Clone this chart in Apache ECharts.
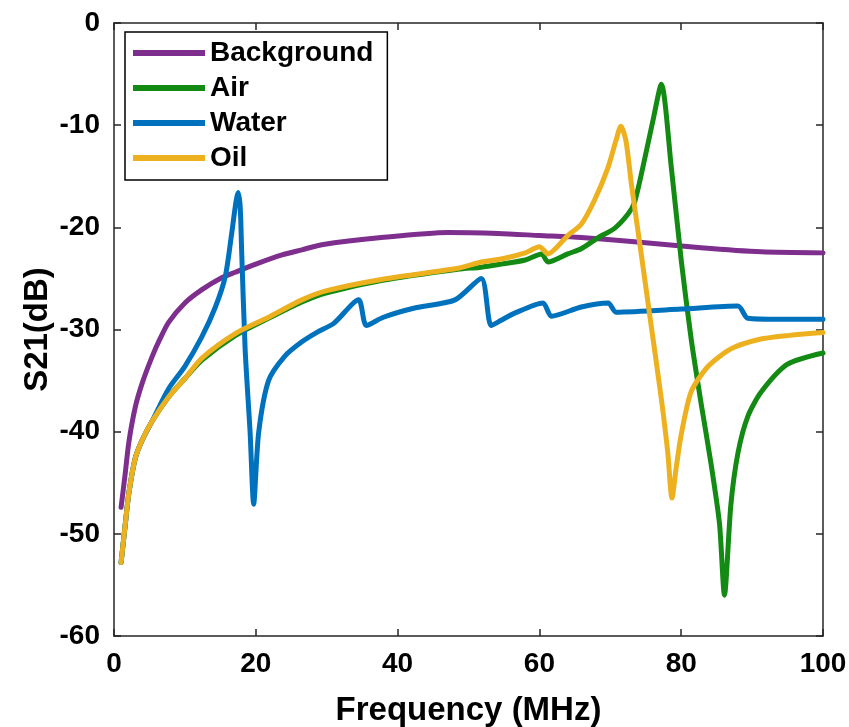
<!DOCTYPE html>
<html>
<head>
<meta charset="utf-8">
<script src="https://cdn.jsdelivr.net/npm/echarts@6/dist/echarts.min.js"></script>
<style>
html,body{margin:0;padding:0;background:#fff;}
#chart{width:849px;height:727px;}
</style>
</head>
<body>
<div id="chart"></div>
<script>
var seriesNames = ['Background', 'Air', 'Water', 'Oil'];
var xTicks = [0, 20, 40, 60, 80, 100];
var yTicks = [-60, -50, -40, -30, -20, -10, 0];

var bgX = [1, 1.6, 2.1, 3, 4, 5.35, 6.5, 7.7, 10, 12.4, 15, 17.1, 20, 23.7, 26.5, 29.3, 37.7, 47.1, 54.2, 60, 65.9, 73.4, 82.8, 91.3, 100];
var bgY = [-47.4, -44, -41, -37.6, -35.2, -32.7, -30.9, -29.3, -27.4, -26.1, -25.0, -24.4, -23.6, -22.7, -22.2, -21.7, -21.0, -20.5, -20.6, -20.8, -21.0, -21.4, -22.0, -22.4, -22.5];

var airX = [1, 1.6, 2.1, 3, 4, 5.35, 7.7, 10, 12.4, 17.1, 21.8, 26.5, 30, 37.7, 48.5, 51.8, 54.6, 58, 60.3, 61.2, 64.0, 65.9, 68.3, 70.6, 72.5, 73.4, 74.6, 76.0, 77.2, 78.6, 80.0, 81.4, 82.8, 84.2, 85.4, 86.1, 87.0, 88.0, 89.4, 91.3, 95, 100];
var airY = [-52.8, -49, -46, -42.6, -40.8, -39.0, -36.6, -34.8, -33.0, -30.6, -28.9, -27.3, -26.4, -25.2, -24.1, -23.9, -23.6, -23.2, -22.6, -23.4, -22.6, -22.1, -21.0, -20.1, -18.7, -17.6, -14.1, -9.6, -6.0, -14.1, -23.2, -30.9, -37.2, -43.1, -49, -56.0, -47.2, -42.1, -38.5, -36.1, -33.4, -32.3];

var waterX = [1, 1.6, 2.1, 3, 4, 5.35, 7.7, 10, 12.4, 14.3, 15.7, 16.6, 17.2, 17.5, 17.8, 18.0, 18.5, 19.2, 19.7, 20.4, 21.8, 24.1, 26.5, 28.8, 31, 34.5, 35.6, 38, 42.4, 48.1, 51.8, 53.2, 54.6, 56.5, 60.5, 61.7, 65.9, 69.7, 70.8, 80, 88.0, 89.4, 94, 100];
var waterY = [-52.8, -49, -46, -42.6, -40.8, -39.0, -35.8, -33.6, -30.7, -27.8, -24.8, -20.6, -17.5, -16.6, -18.0, -22.2, -32, -40.1, -47.1, -40.1, -35, -32.6, -31.2, -30.2, -29.4, -27.1, -29.6, -28.8, -27.9, -27.1, -25.0, -29.6, -29.1, -28.4, -27.4, -28.7, -27.8, -27.4, -28.3, -28.0, -27.7, -28.9, -29.0, -29.0];

var oilX = [1, 1.6, 2.1, 3, 4, 5.35, 7.7, 10, 12.4, 17.1, 21.8, 26.5, 30, 37.7, 48.5, 51.8, 54.6, 58, 60.0, 61.2, 64.0, 65.9, 67.8, 69.7, 70.8, 71.5, 72.2, 73.0, 74.4, 75.8, 77.2, 78.1, 78.7, 79.3, 80.0, 81.4, 83.8, 87.0, 90.8, 95, 100];
var oilY = [-52.8, -49, -46, -42.6, -40.8, -39.0, -36.6, -34.8, -32.8, -30.4, -28.8, -27.1, -26.2, -25.1, -24.0, -23.4, -23.1, -22.5, -21.9, -22.6, -20.8, -19.7, -17.3, -14.1, -11.5, -10.1, -11.5, -15.9, -22.8, -29.8, -36.8, -42.0, -46.5, -43.5, -40.3, -36.1, -33.6, -31.9, -31.0, -30.6, -30.3];

var colors = ['#7E2F8E', '#138A13', '#0072BD', '#EDB120'];

function pairs(xs, ys) {
  var out = [];
  for (var i = 0; i < xs.length; i++) out.push([xs[i], ys[i]]);
  return out;
}

var FONT = '"Liberation Sans", Arial, Helvetica, sans-serif';
var axisColor = '#262626';

var allData = [pairs(bgX, bgY), pairs(airX, airY), pairs(waterX, waterY), pairs(oilX, oilY)];

var series = seriesNames.map(function (name, i) {
  return {
    name: name,
    type: 'line',
    xAxisIndex: 0,
    yAxisIndex: 0,
    data: allData[i],
    symbol: 'none',
    smooth: 0.25,
    lineStyle: { width: 5, color: colors[i], join: 'round', cap: 'round' },
    itemStyle: { color: colors[i] },
    z: 2 + i
  };
});

var chart = echarts.init(document.getElementById('chart'), null, { renderer: 'canvas' });

function axisLine() { return { show: true, onZero: false, lineStyle: { color: axisColor, width: 1.5 } }; }
function axisTick() { return { show: true, inside: true, length: 7, lineStyle: { color: axisColor, width: 1.5 } }; }

chart.setOption({
  animation: false,
  backgroundColor: '#ffffff',
  grid: { left: 114, right: 26, top: 23, bottom: 91, containLabel: false, outerBoundsMode: 'none' },
  legend: {
    data: seriesNames.map(function (n, i) { return { name: n, icon: 'rect', itemStyle: { color: colors[i] } }; }),
    orient: 'vertical',
    left: 125,
    top: 32,
    itemWidth: 72,
    itemHeight: 6,
    itemGap: 7,
    padding: [7, 14, 8, 8],
    borderColor: '#000',
    borderWidth: 1.5,
    backgroundColor: '#fff',
    selectedMode: false,
    textStyle: { fontFamily: FONT, fontWeight: 'bold', fontSize: 28, lineHeight: 28, color: '#000' }
  },
  xAxis: [{
    type: 'value', min: 0, max: 100, interval: 20, position: 'bottom',
    name: 'Frequency (MHz)', nameLocation: 'middle', nameGap: 58, nameMoveOverlap: false,
    nameTextStyle: { fontFamily: FONT, fontWeight: 'bold', fontSize: 33, color: '#000' },
    axisLine: axisLine(),
    axisTick: axisTick(),
    axisLabel: { fontFamily: FONT, fontWeight: 'bold', fontSize: 28, color: '#000', margin: 14,
      formatter: function (v) { return xTicks.indexOf(v) >= 0 ? String(v) : ''; } },
    splitLine: { show: false }
  }, {
    type: 'value', min: 0, max: 100, interval: 20, position: 'top',
    axisLine: axisLine(),
    axisTick: axisTick(),
    axisLabel: { show: false },
    splitLine: { show: false }
  }],
  yAxis: [{
    type: 'value', min: -60, max: 0, interval: 10, position: 'left',
    name: 'S21(dB)', nameLocation: 'middle', nameGap: 60, nameMoveOverlap: false,
    nameTextStyle: { fontFamily: FONT, fontWeight: 'bold', fontSize: 33, color: '#000' },
    axisLine: axisLine(),
    axisTick: axisTick(),
    axisLabel: { fontFamily: FONT, fontWeight: 'bold', fontSize: 28, color: '#000', margin: 14,
      formatter: function (v) { return yTicks.indexOf(v) >= 0 ? String(v) : ''; } },
    splitLine: { show: false }
  }, {
    type: 'value', min: -60, max: 0, interval: 10, position: 'right',
    axisLine: axisLine(),
    axisTick: axisTick(),
    axisLabel: { show: false },
    splitLine: { show: false }
  }],
  series: series
});
</script>
</body>
</html>
